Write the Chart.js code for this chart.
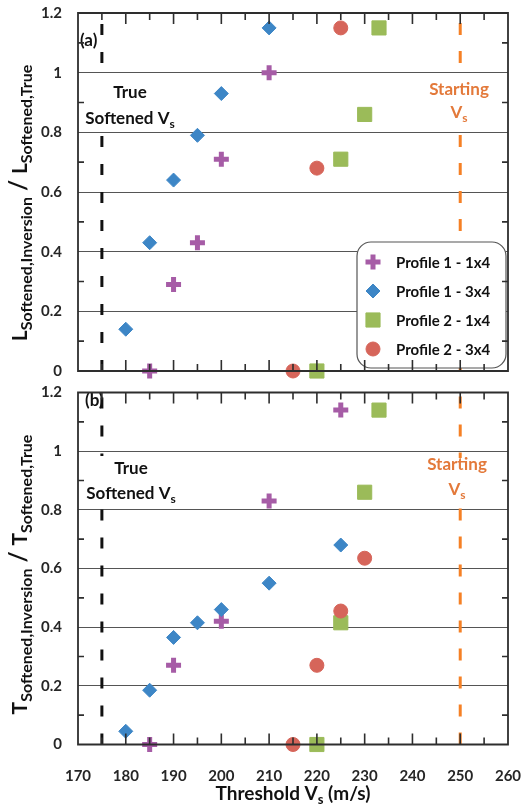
<!DOCTYPE html>
<html lang="en">
<head>
    <meta charset="UTF-8">
    <title>Softened Vs threshold</title>
    <script src="https://cdn.jsdelivr.net/npm/chart.js"></script>
    <style>
        body {
            margin: 0;
            background: white;
        }
        .figure {
            position: relative;
            width: 522px;
            height: 808px;
        }
        .figure canvas {
            position: absolute;
            left: 0;
        }
        #chartA { top: 0; }
        #chartB { top: 380px; }
        #frameLayer { top: 0; pointer-events: none; z-index: 5; }
    </style>
</head>
<body>
    <div class="figure">
        <canvas id="chartA" width="522" height="385"></canvas>
        <canvas id="chartB" width="522" height="428"></canvas>
        <canvas id="frameLayer" width="522" height="808"></canvas>
    </div>

    <script>
        // series labels
        const seriesNames = ['Profile 1 - 1x4', 'Profile 1 - 3x4', 'Profile 2 - 1x4', 'Profile 2 - 3x4'];

        // panel (a): L ratio
        const p1x1A_x = [185, 190, 195, 200, 210];
        const p1x1A_y = [0, 0.29, 0.43, 0.71, 1.0];
        const p1x3A_x = [180, 185, 190, 195, 200, 210];
        const p1x3A_y = [0.14, 0.43, 0.64, 0.79, 0.93, 1.15];
        const p2x1A_x = [220, 225, 230, 233];
        const p2x1A_y = [0, 0.71, 0.86, 1.15];
        const p2x3A_x = [215, 220, 225];
        const p2x3A_y = [0, 0.68, 1.15];

        // panel (b): T ratio
        const p1x1B_x = [185, 190, 200, 210, 225];
        const p1x1B_y = [0, 0.27, 0.42, 0.83, 1.14];
        const p1x3B_x = [180, 185, 190, 195, 200, 210, 225];
        const p1x3B_y = [0.045, 0.185, 0.365, 0.415, 0.46, 0.55, 0.68];
        const p2x1B_x = [220, 225, 230, 233];
        const p2x1B_y = [0, 0.415, 0.86, 1.14];
        const p2x3B_x = [215, 220, 225, 230];
        const p2x3B_y = [0, 0.27, 0.455, 0.635];

        const trueSoftenedVs = 175;
        const startingVs = 250;
        const xMin = 170, xMax = 260;
        const yMin = 0, yMax = 1.2;

        const FONT = 'Lato, "Open Sans", sans-serif';
        const styles = [
            { pointStyle: 'cross', color: '#a65ca6', radius: 7.5, border: 5 },
            { pointStyle: 'rectRot', color: '#3d86c6', radius: 7, border: 1 },
            { pointStyle: 'rect', color: '#9bbb59', radius: 10, border: 1 },
            { pointStyle: 'circle', color: '#d6655a', radius: 7, border: 1 }
        ];

        function toPoints(xs, ys) {
            return xs.map((x, i) => ({ x: x, y: ys[i] }));
        }

        function buildDatasets(series) {
            const sets = series.map((s, i) => ({
                label: seriesNames[i],
                data: toPoints(s[0], s[1]),
                pointStyle: styles[i].pointStyle,
                pointRadius: styles[i].radius,
                pointBorderWidth: styles[i].border,
                backgroundColor: styles[i].color,
                borderColor: styles[i].color,
                clip: false,
                order: 4 - i
            }));
            sets.push({
                label: 'True Softened Vs',
                data: [{ x: trueSoftenedVs, y: yMin }, { x: trueSoftenedVs, y: yMax }],
                showLine: true,
                borderColor: '#111',
                borderWidth: 3,
                borderDash: [11, 17],
                pointRadius: 0,
                order: 10
            });
            sets.push({
                label: 'Starting Vs',
                data: [{ x: startingVs, y: yMin }, { x: startingVs, y: yMax }],
                showLine: true,
                borderColor: '#f58025',
                borderWidth: 3,
                borderDash: [12, 16],
                pointRadius: 0,
                order: 11
            });
            return sets;
        }

        // text made of pieces, some of them subscripts
        function richWidth(ctx, parts) {
            let w = 0;
            parts.forEach(p => {
                ctx.font = 'bold ' + p.size + 'px ' + FONT;
                w += ctx.measureText(p.t).width;
            });
            return w;
        }
        function drawRich(ctx, parts, cx, baseY, color) {
            const w = richWidth(ctx, parts);
            let x = cx - w / 2;
            ctx.fillStyle = color;
            ctx.textAlign = 'left';
            ctx.textBaseline = 'alphabetic';
            parts.forEach(p => {
                ctx.font = 'bold ' + p.size + 'px ' + FONT;
                ctx.fillText(p.t, x, baseY + (p.dy || 0));
                x += ctx.measureText(p.t).width;
            });
        }

        const panelDecor = {
            id: 'panelDecor',
            afterDatasetsDraw(chart, args, o) {
                const ctx = chart.ctx;
                const a = chart.chartArea;
                ctx.save();

                // white-backed annotations
                ctx.fillStyle = 'white';
                o.boxes.forEach(b => {
                    ctx.beginPath();
                    ctx.rect(b[0], b[1], b[2], b[3]);
                    ctx.fill();
                });

                const tx = o.trueText, sx = o.startText;
                drawRich(ctx, [{ t: 'True', size: 17 }], tx.x, tx.y1, '#111');
                drawRich(ctx, [{ t: 'Softened V', size: 17 }, { t: 's', size: 12, dy: 4 }], tx.x, tx.y2, '#111');
                drawRich(ctx, [{ t: 'Starting', size: 17 }], sx.x, sx.y1, '#e3793a');
                drawRich(ctx, [{ t: 'V', size: 17 }, { t: 's', size: 12, dy: 4 }], sx.x, sx.y2, '#e3793a');

                ctx.font = 'bold 17px ' + FONT;
                ctx.fillStyle = '#111';
                ctx.textAlign = 'left';
                ctx.fillText(o.tag.t, o.tag.x, o.tag.y);

                // legend
                if (o.legend) {
                    const L = o.legend;
                    ctx.beginPath();
                    ctx.roundRect(L.x, L.y, L.w, L.h, 14);
                    ctx.fillStyle = 'white';
                    ctx.fill();
                    ctx.strokeStyle = '#555';
                    ctx.lineWidth = 1.2;
                    ctx.stroke();
                    styles.forEach((s, i) => {
                        const cy = L.y + L.first + i * L.step;
                        ctx.fillStyle = s.color;
                        ctx.strokeStyle = s.color;
                        ctx.lineWidth = s.border;
                        Chart.helpers.drawPoint(ctx, { pointStyle: s.pointStyle, radius: s.radius, borderWidth: s.border, rotation: 0 }, L.x + 16, cy);
                        ctx.font = 'bold 15px ' + FONT;
                        ctx.fillStyle = '#111';
                        ctx.textAlign = 'left';
                        ctx.textBaseline = 'middle';
                        ctx.fillText(chart.data.datasets[i].label, L.x + 39, cy + 1);
                    });
                    ctx.textBaseline = 'alphabetic';
                }

                // rotated y title
                const cy = (a.top + a.bottom) / 2 + o.yTitle.shift;
                ctx.save();
                ctx.translate(o.yTitle.x, cy);
                ctx.rotate(-Math.PI / 2);
                const s = o.yTitle.sym;
                drawRich(ctx, [
                    { t: s, size: 21 }, { t: 'Softened,Inversion', size: 16, dy: 5 },
                    { t: ' / ', size: 24 },
                    { t: s, size: 21 }, { t: 'Softened,True', size: 16, dy: 5 }
                ], 0, 0, '#111');
                ctx.restore();

                if (o.xTitle) {
                    drawRich(ctx, [{ t: 'Threshold V', size: 19 }, { t: 's', size: 13, dy: 4 }, { t: ' (m/s)', size: 19 }],
                        (a.left + a.right) / 2, o.xTitle.y, '#111');
                }
                ctx.restore();
            }
        };

        function yScale() {
            return {
                min: yMin,
                max: yMax,
                afterFit: scale => {
                    scale.width = 78;
                    scale.paddingTop = 0;
                    scale.paddingBottom = 0;
                },
                border: { display: false },
                grid: {
                    drawTicks: false,
                    lineWidth: 1,
                    color: c => Math.round(c.tick.value * 10) % 2 === 0 ? '#555' : 'rgba(0,0,0,0)'
                },
                ticks: {
                    stepSize: 0.1,
                    autoSkip: false,
                    padding: 16,
                    color: '#262626',
                    font: { family: FONT, size: 15, weight: 'bold' },
                    callback: v => Math.round(v * 10) % 2 === 0 ? String(+v.toFixed(1)) : ''
                }
            };
        }

        function makeChart(id, series, showX, decor, padding) {
            return new Chart(document.getElementById(id), {
                type: 'scatter',
                data: { datasets: buildDatasets(series) },
                options: {
                    responsive: false,
                    animation: false,
                    devicePixelRatio: 1,
                    layout: { padding: padding },
                    plugins: {
                        legend: { display: false },
                        tooltip: { enabled: false },
                        panelDecor: decor
                    },
                    scales: {
                        x: {
                            min: xMin,
                            max: xMax,
                            display: showX,
                            afterFit: scale => {
                                scale.height = showX ? 63.5 : 0;
                                scale.paddingLeft = 0;
                                scale.paddingRight = 0;
                            },
                            border: { display: false },
                            grid: { display: false },
                            ticks: {
                                stepSize: 5,
                                autoSkip: false,
                                maxRotation: 0,
                                padding: 15,
                                color: '#262626',
                                font: { family: FONT, size: 15, weight: 'bold' },
                                callback: v => v % 10 === 0 ? v : ''
                            }
                        },
                        y: yScale()
                    }
                },
                plugins: [panelDecor]
            });
        }

        const chartA = makeChart('chartA',
            [[p1x1A_x, p1x1A_y], [p1x3A_x, p1x3A_y], [p2x1A_x, p2x1A_y], [p2x3A_x, p2x3A_y]],
            false,
            {
                boxes: [[80, 80, 103, 48], [425, 77, 70, 46]],
                trueText: { x: 130, y1: 98, y2: 124 },
                startText: { x: 459, y1: 95, y2: 118 },
                tag: { t: '(a)', x: 80, y: 46 },
                legend: { x: 357, y: 242, w: 149, h: 126, first: 20, step: 29 },
                yTitle: { sym: 'L', x: 27, shift: 11 }
            },
            { left: 0, right: 14, top: 13, bottom: 14 });

        const chartB = makeChart('chartB',
            [[p1x1B_x, p1x1B_y], [p1x3B_x, p1x3B_y], [p2x1B_x, p2x1B_y], [p2x3B_x, p2x3B_y]],
            true,
            {
                boxes: [[80, 76, 103, 52], [425, 78, 70, 47]],
                trueText: { x: 131, y1: 94, y2: 119 },
                startText: { x: 457, y1: 90, y2: 115 },
                tag: { t: '(b)', x: 85, y: 26 },
                yTitle: { sym: 'T', x: 27, shift: 6 },
                xTitle: { y: 420 }
            },
            { left: 0, right: 14, top: 7, bottom: 0 });

        // plot frames and inner tick marks, drawn on a layer above both charts
        function drawFrame(ctx, chart, offsetY) {
            const a = chart.chartArea;
            const xs = chart.scales.x, ys = chart.scales.y;
            const top = a.top + offsetY, bottom = a.bottom + offsetY;
            ctx.strokeStyle = '#2e2e2e';
            ctx.lineWidth = 1.6;
            for (let k = 1; k < 12; k += 2) {
                const y = ys.getPixelForValue(k / 10) + offsetY;
                ctx.beginPath();
                ctx.moveTo(a.left, y);
                ctx.lineTo(a.left + 6, y);
                ctx.moveTo(a.right, y);
                ctx.lineTo(a.right - 6, y);
                ctx.stroke();
            }
            for (let v = xMin + 5; v < xMax; v += 5) {
                const x = xs.getPixelForValue(v);
                const len = v % 10 === 0 ? 11 : 7;
                ctx.beginPath();
                ctx.moveTo(x, top);
                ctx.lineTo(x, top + len);
                ctx.moveTo(x, bottom);
                ctx.lineTo(x, bottom - len);
                ctx.stroke();
            }
            ctx.lineWidth = 1.8;
            ctx.beginPath();
            ctx.rect(a.left, top, a.right - a.left, bottom - top);
            ctx.stroke();
        }

        const layer = document.getElementById('frameLayer').getContext('2d');
        drawFrame(layer, chartA, 0);
        drawFrame(layer, chartB, 380);
    </script>
</body>
</html>
